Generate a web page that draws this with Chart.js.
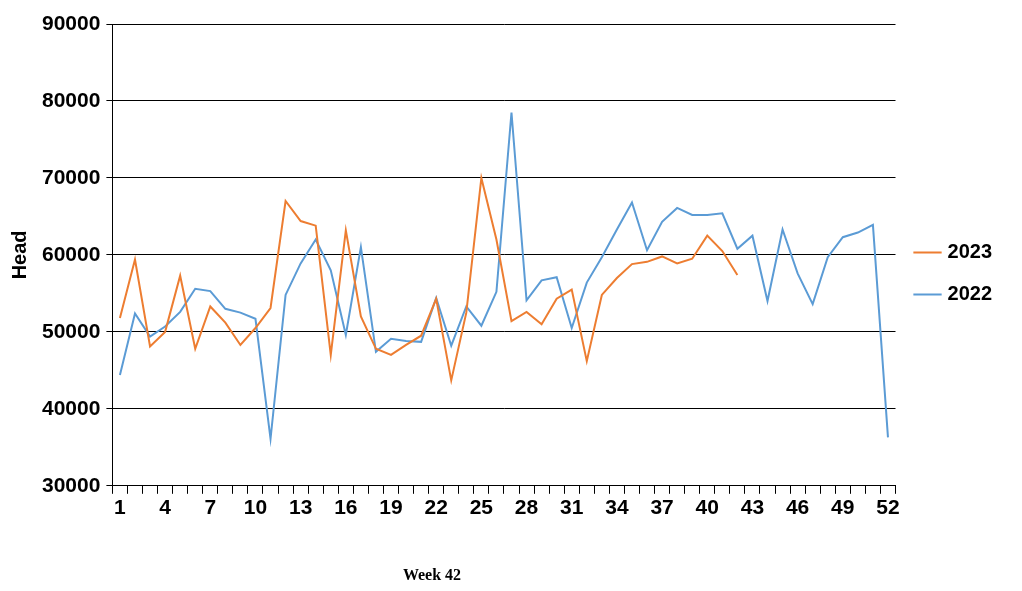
<!DOCTYPE html>
<html><head><meta charset="utf-8">
<script src="https://cdn.jsdelivr.net/npm/chart.js@4"></script>
<style>html,body{margin:0;padding:0;background:#fff}#w{position:relative;width:1022px;height:591px}</style>
</head><body><div id="w"><canvas id="c"></canvas></div>
<script>
const weeks = Array.from({length:52},(_,i)=>String(i+1));
const s2023 = [51800,59400,48100,50000,57300,47800,53300,51200,48300,50500,53100,67000,64400,63800,47000,63200,52000,47800,47000,48300,49500,54300,43700,52500,70000,62000,51400,52600,51000,54300,55500,46200,54800,57000,58800,59100,59800,58900,59500,62500,60500,57400];
const s2022 = [44400,52400,49400,50700,52600,55600,55300,53000,52500,51700,36100,54800,58900,62000,58000,49600,61000,47400,49100,48800,48700,54400,48200,53300,50800,55200,78500,54100,56700,57100,50500,56400,59700,63300,66800,60600,64300,66100,65200,65200,65400,60800,62500,54000,63300,57600,53600,59700,62300,62900,63900,36300];
const xTitle = 'Week 42';
const tickFont = {family:'Liberation Sans, Arial', size:21, weight:'bold'};
const titlePlugin = {id:'xt', afterDraw(ch){const c=ch.ctx;c.save();c.font='bold 16px "Liberation Serif"';c.fillStyle='#000';c.textAlign='center';c.textBaseline='middle';c.fillText(xTitle,432,576);c.restore();}};
new Chart(document.getElementById('c'), {
  type:'line',
  data:{labels:weeks, datasets:[
    {label:'2023', data:s2023, borderColor:'#ED7D31', backgroundColor:'#ED7D31', borderWidth:2, pointRadius:0, tension:0},
    {label:'2022', data:s2022, borderColor:'#5B9BD5', backgroundColor:'#5B9BD5', borderWidth:2, pointRadius:0, tension:0}
  ]},
  options:{
    responsive:true, maintainAspectRatio:false, animation:false,
    layout:{padding:{left:4, right:20, top:24, bottom:68}},
    plugins:{
      legend:{position:'right', labels:{usePointStyle:true, pointStyle:'line', boxWidth:36, padding:22, color:'#000', font:{family:'Liberation Sans, Arial', size:20, weight:'bold'}}},
      tooltip:{enabled:false}
    },
    scales:{
      x:{offset:true,
        grid:{display:true, drawOnChartArea:false, drawTicks:true, tickLength:8, color:'#000', offset:true},
        border:{color:'#000', width:1},
        ticks:{autoSkip:false, maxRotation:0, color:'#000', font:tickFont, padding:2,
          callback:(v,i)=> i%3===0 ? weeks[i] : ''}
      },
      y:{min:30000, max:90000,
        grid:{color:'#000', drawTicks:true, tickLength:6},
        border:{color:'#000', width:1},
        ticks:{stepSize:10000, color:'#000', font:tickFont, padding:6, callback:v=>String(v)},
        title:{display:true, text:'Head', color:'#000', font:{family:'Liberation Sans, Arial', size:20, weight:'bold'}}
      }
    }
  },
  plugins:[titlePlugin]
});
</script></body></html>
